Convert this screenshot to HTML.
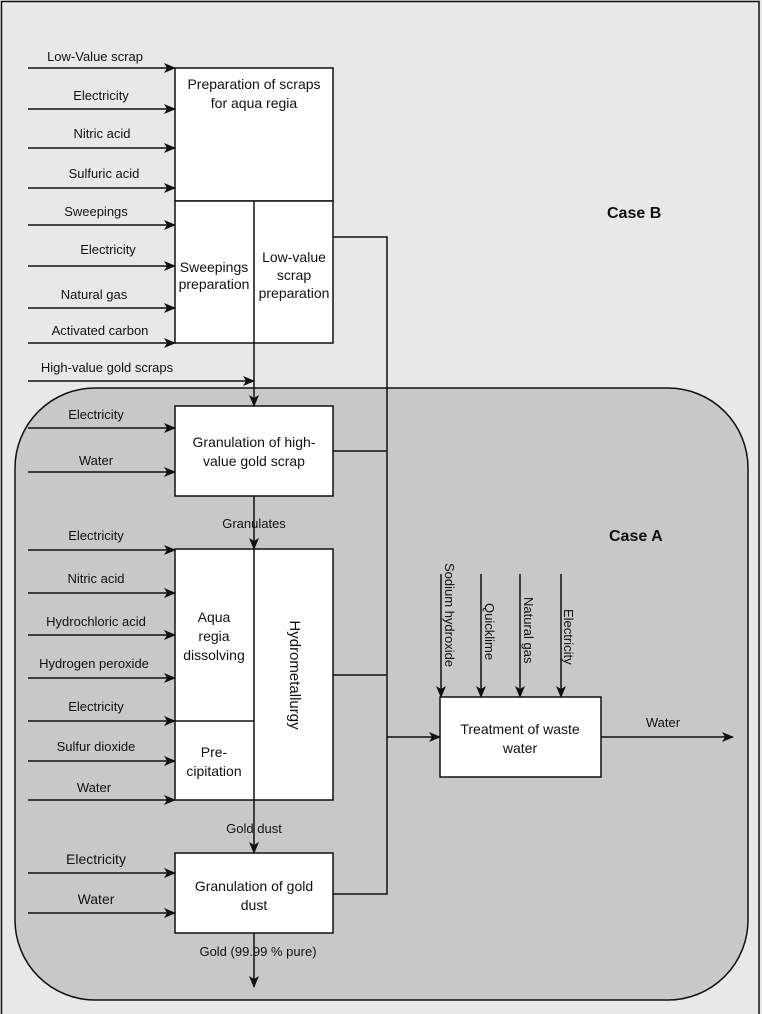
<!DOCTYPE html>
<html><head><meta charset="utf-8"><style>
body{margin:0;background:#e8e8e8}
svg{display:block}
text{font-family:"Liberation Sans",Arial,sans-serif;font-size:13px;fill:#111}
.bt text{font-size:14px}
.b{fill:#fff;stroke:#111;stroke-width:1.5}
.l{stroke:#111;stroke-width:1.5;fill:none}
</style></head><body>
<svg width="762" height="1014" viewBox="0 0 762 1014">
<defs><marker id="a" markerWidth="12" markerHeight="10" refX="11" refY="5" orient="auto" markerUnits="userSpaceOnUse"><path d="M0,0 L12,5 L0,10 L3,5 Z" fill="#111"/></marker></defs>
<rect x="0" y="0" width="762" height="1014" fill="#e8e8e8"/>
<path d="M1.5,1014 V1.5 H759 V1014" class="l" stroke="#555"/>
<rect x="15" y="388" width="733" height="612" rx="80" ry="80" fill="#c8c8c8" stroke="#111" stroke-width="1.5"/>
<text x="607" y="218" style="font-weight:bold;font-size:16px">Case B</text>
<text x="609" y="541" style="font-weight:bold;font-size:16px">Case A</text>

<rect class="b" x="175" y="68" width="158" height="133"/>
<rect class="b" x="175" y="201" width="158" height="142"/>
<line class="l" x1="254" y1="201" x2="254" y2="343"/>
<rect class="b" x="175" y="406" width="158" height="90"/>
<rect class="b" x="175" y="549" width="158" height="251"/>
<line class="l" x1="254" y1="549" x2="254" y2="800"/>
<line class="l" x1="175" y1="721" x2="254" y2="721"/>
<rect class="b" x="175" y="853" width="158" height="80"/>
<rect class="b" x="440" y="697" width="161" height="80"/>

<g text-anchor="middle" class="bt">
<text x="254" y="89">Preparation of scraps</text><text x="254" y="108">for aqua regia</text>
<text x="214" y="272">Sweepings</text><text x="214" y="289">preparation</text>
<text x="294" y="262">Low-value</text><text x="294" y="280">scrap</text><text x="294" y="298">preparation</text>
<text x="254" y="447">Granulation of high-</text><text x="254" y="466">value gold scrap</text>
<text x="214" y="622">Aqua</text><text x="214" y="641">regia</text><text x="214" y="660">dissolving</text>
<text x="214" y="757">Pre-</text><text x="214" y="776">cipitation</text>
<text x="254" y="891">Granulation of gold</text><text x="254" y="910">dust</text>
<text x="520" y="734">Treatment of waste</text><text x="520" y="753">water</text>
<text transform="translate(290,675) rotate(90)" style="font-size:15px">Hydrometallurgy</text>
</g>
<g text-anchor="middle">
<text x="254" y="528">Granulates</text>
<text x="254" y="833">Gold dust</text>
<text x="258" y="956">Gold (99.99 % pure)</text>
</g>

<g class="l" marker-end="url(#a)">
<line x1="28" y1="68" x2="175" y2="68"/><line x1="28" y1="109" x2="175" y2="109"/>
<line x1="28" y1="148" x2="175" y2="148"/><line x1="28" y1="188" x2="175" y2="188"/>
<line x1="28" y1="225" x2="175" y2="225"/><line x1="28" y1="266" x2="175" y2="266"/>
<line x1="28" y1="308" x2="175" y2="308"/><line x1="28" y1="343" x2="175" y2="343"/>
<line x1="28" y1="381" x2="254" y2="381"/>
<line x1="254" y1="343" x2="254" y2="406"/>
<line x1="28" y1="428" x2="175" y2="428"/><line x1="28" y1="472" x2="175" y2="472"/>
<line x1="254" y1="496" x2="254" y2="549"/>
<line x1="28" y1="550" x2="175" y2="550"/><line x1="28" y1="593" x2="175" y2="593"/>
<line x1="28" y1="635" x2="175" y2="635"/><line x1="28" y1="678" x2="175" y2="678"/>
<line x1="28" y1="721" x2="175" y2="721"/><line x1="28" y1="761" x2="175" y2="761"/>
<line x1="28" y1="800" x2="175" y2="800"/>
<line x1="254" y1="800" x2="254" y2="853"/>
<line x1="28" y1="873" x2="175" y2="873"/><line x1="28" y1="913" x2="175" y2="913"/>
<line x1="254" y1="933" x2="254" y2="987"/>
<line x1="387" y1="737" x2="440" y2="737"/>
<line x1="601" y1="737" x2="733" y2="737"/>
<line x1="441" y1="574" x2="441" y2="697"/><line x1="481" y1="574" x2="481" y2="697"/>
<line x1="520" y1="574" x2="520" y2="697"/><line x1="561" y1="574" x2="561" y2="697"/>
</g>
<path class="l" d="M333,237 H387 V894 H333 M333,451 H387 M333,675 H387"/>

<g text-anchor="middle">
<text x="95" y="61">Low-Value scrap</text><text x="101" y="100">Electricity</text>
<text x="102" y="138">Nitric acid</text><text x="104" y="178">Sulfuric acid</text>
<text x="96" y="216">Sweepings</text><text x="108" y="254">Electricity</text>
<text x="94" y="299">Natural gas</text><text x="100" y="335">Activated carbon</text>
<text x="107" y="372">High-value gold scraps</text>
<text x="96" y="419">Electricity</text><text x="96" y="465">Water</text>
<text x="96" y="540">Electricity</text><text x="96" y="583">Nitric acid</text>
<text x="96" y="626">Hydrochloric acid</text><text x="94" y="668">Hydrogen peroxide</text>
<text x="96" y="711">Electricity</text><text x="96" y="751">Sulfur dioxide</text>
<text x="94" y="792">Water</text>
<text x="96" y="864" style="font-size:14px">Electricity</text><text x="96" y="904" style="font-size:14px">Water</text>
<text x="663" y="727">Water</text>
</g>
<g>
<text transform="translate(445,563) rotate(90)">Sodium hydroxide</text>
<text transform="translate(485,603) rotate(90)">Quicklime</text>
<text transform="translate(524,597) rotate(90)">Natural gas</text>
<text transform="translate(564,609) rotate(90)">Electricity</text>
</g>
</svg>
</body></html>
